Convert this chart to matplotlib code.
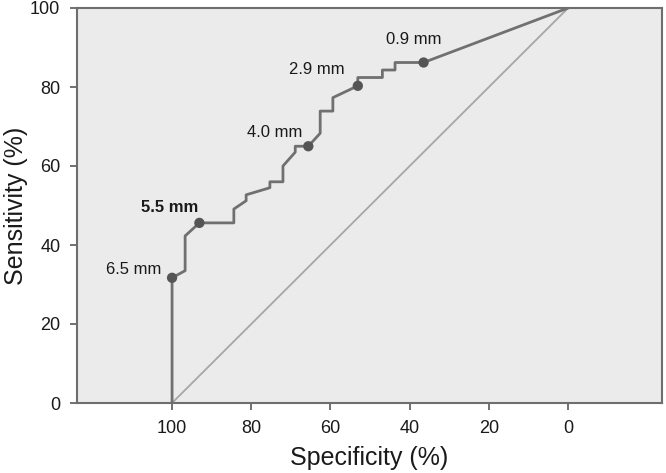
import matplotlib
matplotlib.use("Agg")
import matplotlib.pyplot as plt

plt.rcParams['font.family'] = ['Liberation Sans', 'DejaVu Sans']

# ROC curve: (specificity %, sensitivity %)
spec = [100, 100, 96.7, 96.7, 93.1, 84.4, 84.4, 81.3, 81.3, 75.3, 75.3, 72.0, 72.0,
        68.9, 68.9, 65.6, 62.6, 62.6, 59.4, 59.4, 53.1, 53.1, 46.9, 46.9, 43.7, 43.7,
        36.5, 0]
sens = [0, 31.7, 33.5, 42.3, 45.6, 45.6, 49.1, 51.2, 52.7, 54.5, 56.0, 56.0, 60.0,
        63.5, 65.0, 65.0, 68.3, 73.9, 73.9, 77.3, 80.3, 82.4, 82.4, 84.3, 84.3, 86.2,
        86.2, 100]

# marked cut-off points
cut_labels = ['6.5 mm', '5.5 mm', '4.0 mm', '2.9 mm', '0.9 mm']
cut_spec = [100, 93.1, 65.6, 53.1, 36.5]
cut_sens = [31.7, 45.6, 65.0, 80.3, 86.2]

xticks = [100, 80, 60, 40, 20, 0]
yticks = [0, 20, 40, 60, 80, 100]

fig = plt.figure(figsize=(6.66, 4.73), dpi=100)
ax = fig.add_axes([77 / 666, 1 - 403 / 473, (662 - 77) / 666, (403 - 8) / 473])
ax.set_facecolor('#ebebeb')

# reference diagonal
ax.plot([100, 0], [0, 100], color='#a6a6a6', lw=1.3, zorder=2)
# roc curve
ax.plot(spec, sens, color='#707070', lw=2.0, zorder=3)
ax.scatter(cut_spec, cut_sens, s=55, color='#555555', zorder=4, edgecolors='none')

# label placement (pixel offsets from each dot)
offsets = [(-11, 8, 'right'), (-1, 15, 'right'), (-6, 14, 'right'),
           (-13, 16, 'right'), (-10, 23, 'center')]
for lab, x, y, (dx, dy, ha) in zip(cut_labels, cut_spec, cut_sens, offsets):
    ax.annotate(lab, xy=(x, y), xytext=(dx, dy), textcoords='offset pixels',
                ha=ha, va='center', fontsize=12, color='#1a1a1a',
                fontweight='bold' if lab == '5.5 mm' else 'normal')

ax.set_xlim(124, -23.7)
ax.set_ylim(0, 100)
ax.set_xticks(xticks)
ax.set_yticks(yticks)
ax.tick_params(direction='out', length=5, width=1.3, color='#666666',
               labelsize=13, labelcolor='#1a1a1a', pad=7)
for s in ax.spines.values():
    s.set_color('#6e6e6e')
    s.set_linewidth(1.5)

ax.set_xlabel('Specificity (%)', fontsize=18, color='#1a1a1a', va='center')
ax.set_ylabel('Sensitivity (%)', fontsize=18, color='#1a1a1a', va='center')
ax.xaxis.set_label_coords(0.5, (403 - 458) / 395)
ax.yaxis.set_label_coords((16 - 77) / 585, 0.5)

fig.savefig('out.png', dpi=100)
